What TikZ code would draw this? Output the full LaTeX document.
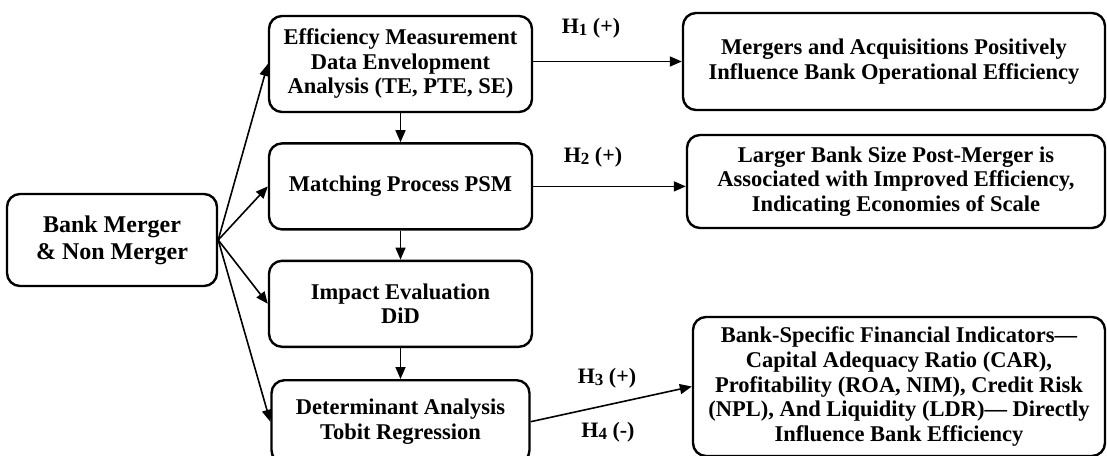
\documentclass[tikz,border=0pt]{standalone}
\usepackage{fontspec}
\setmainfont{Liberation Serif}
\usetikzlibrary{arrows.meta,positioning}

\newcommand\hsub[1]{\raisebox{-2.5pt}{\fontsize{17}{17}\selectfont #1}}

\begin{document}
\begin{tikzpicture}[
    x=1pt, y=-1pt,
    box/.style = {draw, line width=2.4pt, rounded corners=13pt, align=center,
                  inner sep=0pt, font=\bfseries\fontsize{22.5}{24.5}\selectfont},
    hyp/.style = {font=\bfseries\fontsize{22}{25}\selectfont},
    link/.style = {-{Triangle[length=12pt,width=10pt]}, line width=1.6pt},
    node distance = 29pt
  ]
  \useasboundingbox (0,0) rectangle (1107,455);
  \clip (0,0) rectangle (1107,455);

  \node[box, minimum width=210pt, minimum height=92pt,
        font=\bfseries\fontsize{24}{27}\selectfont] (bank) at (112,240)
        {Bank Merger\\\& Non Merger};

  % middle column
  \node[box, minimum width=263pt, minimum height=96pt] (eff) at (400.5,64)
        {Efficiency Measurement\\Data Envelopment\\Analysis (TE, PTE, SE)};
  \node[box, minimum width=263pt, minimum height=86pt, below=of eff] (psm)
        {Matching Process PSM};
  \node[box, minimum width=263pt, minimum height=86pt, below=of psm] (did)
        {Impact Evaluation\\DiD};
  \node[box, minimum width=258pt, minimum height=83pt, below=31pt of did] (tobit)
        {Determinant Analysis\\Tobit Regression};

  % hypotheses
  \node[box, minimum width=422pt, minimum height=97pt] (res1) at (894,61.5)
        {Mergers and Acquisitions Positively\\Influence Bank Operational Efficiency};
  \node[box, minimum width=418pt, minimum height=93pt] (res2) at (896,181.5)
        {Larger Bank Size Post-Merger is\\Associated with Improved Efficiency,\\Indicating Economies of Scale};
  \node[box, minimum width=412pt, minimum height=139pt] (res3) at (899,386.5)
        {Bank-Specific Financial Indicators---\\Capital Adequacy Ratio (CAR),\\Profitability (ROA, NIM), Credit Risk\\(NPL), And Liquidity (LDR)--- Directly\\Influence Bank Efficiency};

  \node[hyp] (h1) at (591,28) {H\hsub{1} (+)};
  \node[hyp] (h2) at (593,157) {H\hsub{2} (+)};
  \node[hyp] (h3) at (607,378) {H\hsub{3} (+)};
  \node[hyp] (h4) at (608,432) {H\hsub{4} (-)};

  \draw[link] (bank.east) -- (eff.west);
  \draw[link] (bank.east) -- (psm.west);
  \draw[link] (bank.east) -- (did.west);
  \draw[link] (bank.east) -- (tobit.west);

  \draw[link] (eff) -- (psm);
  \draw[link] (psm) -- (did);
  \draw[link] (did) -- (tobit);

  \draw[link] (res1.west -| eff.east) -- (res1.west);
  \draw[link] (psm.east) -- (psm.east -| res2.west);
  \draw[link] (tobit.east) -- (res3.west);
\end{tikzpicture}
\end{document}
